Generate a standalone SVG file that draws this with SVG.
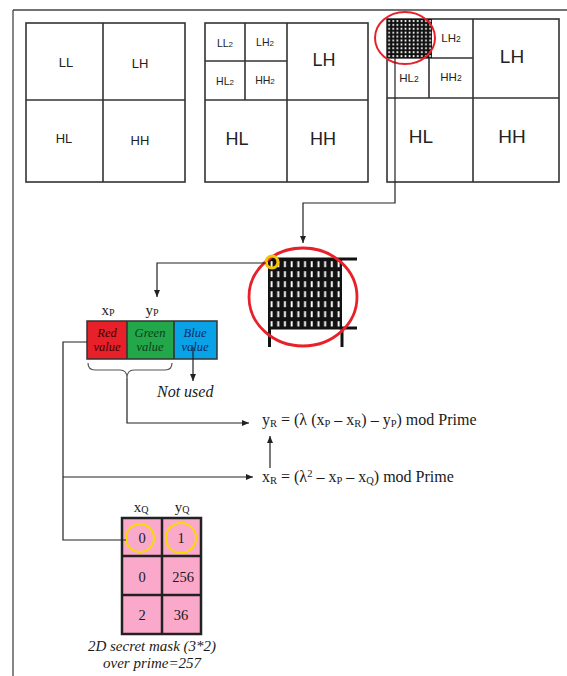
<svg xmlns="http://www.w3.org/2000/svg" width="567" height="676" viewBox="0 0 567 676">
<style>
.frame{fill:none;stroke:#444;stroke-width:1.3}
.box{fill:#fff;stroke:#333;stroke-width:1.6}
.ln{stroke:#333;stroke-width:1.6;fill:none}
.sans{font-family:"Liberation Sans",Arial,sans-serif;fill:#222;text-anchor:middle}
.serif{font-family:"Liberation Serif","Times New Roman",serif;fill:#1a1a1a}
.it{font-style:italic}
.con{fill:none;stroke:#222;stroke-width:1.2}
.mid{text-anchor:middle}
</style>
<defs>
<marker id="ah" markerWidth="8" markerHeight="7" refX="7" refY="3" orient="auto" markerUnits="userSpaceOnUse">
<path d="M0,0 L7,3 L0,6 z" fill="#222"/>
</marker>
<pattern id="fine" x="387" y="19" width="4.1" height="3.9" patternUnits="userSpaceOnUse">
<rect width="4.1" height="3.9" fill="#111"/>
<rect x="1.3" y="1" width="1.6" height="2" fill="#fff"/>
</pattern>
<pattern id="big" x="268" y="259" width="6.7" height="10" patternUnits="userSpaceOnUse">
<rect width="6.7" height="10" fill="#111"/>
<rect x="2.6" y="2.2" width="1.9" height="6" fill="#fff"/>
</pattern>
</defs>

<g id="frame">
<line class="frame" x1="13" y1="10" x2="567" y2="10"/>
<line class="frame" x1="13" y1="10" x2="13" y2="676"/>
</g>

<g id="box1">
<rect class="box" x="26" y="23" width="159" height="159"/>
<line class="ln" x1="103" y1="23" x2="103" y2="182"/>
<line class="ln" x1="26" y1="100" x2="185" y2="100"/>
<text class="sans" x="66" y="67" font-size="13">LL</text>
<text class="sans" x="140" y="68" font-size="13">LH</text>
<text class="sans" x="64" y="143" font-size="13">HL</text>
<text class="sans" x="140" y="145" font-size="13">HH</text>
</g>

<g id="box2">
<rect class="box" x="205" y="23" width="163" height="159"/>
<line class="ln" x1="287" y1="23" x2="287" y2="182"/>
<line class="ln" x1="205" y1="100" x2="368" y2="100"/>
<line class="ln" x1="245" y1="23" x2="245" y2="100"/>
<line class="ln" x1="205" y1="61" x2="287" y2="61"/>
<text class="sans" x="225" y="47" font-size="10.5">LL<tspan font-size="8">2</tspan></text>
<text class="sans" x="265" y="46" font-size="10.5">LH<tspan font-size="8">2</tspan></text>
<text class="sans" x="225" y="85" font-size="10.5">HL<tspan font-size="8">2</tspan></text>
<text class="sans" x="265" y="84" font-size="10.5">HH<tspan font-size="8">2</tspan></text>
<text class="sans" x="324" y="66" font-size="18">LH</text>
<text class="sans" x="237" y="145" font-size="18">HL</text>
<text class="sans" x="323" y="145" font-size="18">HH</text>
</g>

<g id="box3">
<rect class="box" x="387" y="19" width="172" height="163"/>
<line class="ln" x1="473" y1="19" x2="473" y2="182"/>
<line class="ln" x1="387" y1="98" x2="559" y2="98"/>
<line class="ln" x1="387" y1="58" x2="473" y2="58"/>
<line class="ln" x1="429" y1="58" x2="429" y2="98"/>
<rect x="387" y="19" width="45" height="39" fill="url(#fine)"/>
<text class="sans" x="451" y="42" font-size="11.5">LH<tspan font-size="8.5">2</tspan></text>
<text class="sans" x="409" y="82" font-size="11.5">HL<tspan font-size="8.5">2</tspan></text>
<text class="sans" x="451" y="81" font-size="11.5">HH<tspan font-size="8.5">2</tspan></text>
<text class="sans" x="512" y="63" font-size="19">LH</text>
<text class="sans" x="421" y="143" font-size="19">HL</text>
<text class="sans" x="512" y="143" font-size="19">HH</text>
<ellipse cx="405" cy="38" rx="30" ry="26" fill="none" stroke="#e8202a" stroke-width="2"/>
</g>

<g id="zoomed-grid">
<rect x="268" y="259" width="74" height="69" fill="url(#big)"/>
<line x1="268" y1="259" x2="357" y2="259" stroke="#111" stroke-width="3"/>
<line x1="268" y1="328" x2="357" y2="328" stroke="#111" stroke-width="3"/>
<line x1="269.5" y1="328" x2="269.5" y2="347" stroke="#111" stroke-width="3"/>
<line x1="342" y1="328" x2="342" y2="347" stroke="#111" stroke-width="3"/>
<ellipse cx="303" cy="297" rx="54" ry="49" fill="none" stroke="#e8202a" stroke-width="2.8"/>
<circle cx="272" cy="262" r="6" fill="none" stroke="#f5c400" stroke-width="3"/>
</g>

<g id="pixel">
<text class="serif mid" x="108" y="315" font-size="15">x<tspan font-size="10" dy="1">P</tspan></text>
<text class="serif mid" x="152" y="315" font-size="15">y<tspan font-size="10" dy="1">P</tspan></text>
<rect x="87" y="321" width="40" height="38" fill="#e8202a"/>
<rect x="127" y="321" width="47" height="38" fill="#22a84a"/>
<rect x="174" y="321" width="43" height="38" fill="#0aa2e6"/>
<rect x="87" y="321" width="130" height="38" fill="none" stroke="#333" stroke-width="1.5"/>
<line class="ln" x1="127" y1="321" x2="127" y2="359"/>
<line class="ln" x1="174" y1="321" x2="174" y2="359"/>
<text class="serif it mid" x="107" y="337" font-size="12.5" style="fill:#3a0000">Red</text>
<text class="serif it mid" x="107" y="351" font-size="12.5" style="fill:#3a0000">value</text>
<text class="serif it mid" x="150" y="337" font-size="12.5" style="fill:#0c3f18">Green</text>
<text class="serif it mid" x="150" y="351" font-size="12.5" style="fill:#0c3f18">value</text>
<text class="serif it mid" x="195" y="337" font-size="12.5" style="fill:#0a2a6a">Blue</text>
<text class="serif it mid" x="195" y="351" font-size="12.5" style="fill:#0a2a6a">value</text>
<path d="M88,363 q0,7 7,7 h25 q7,0 7,8 q0,-8 7,-8 h31 q7,0 7,-7" fill="none" stroke="#555" stroke-width="1.2"/>
</g>

<g id="not-used">
<text class="serif it" x="157" y="397" font-size="16">Not used</text>
</g>

<g id="formula-y">
<text class="serif" x="262" y="425" font-size="16">y<tspan font-size="10.5" dy="2">R</tspan><tspan dy="-2"> = (λ (x</tspan><tspan font-size="10.5" dy="2">P</tspan><tspan dy="-2"> – x</tspan><tspan font-size="10.5" dy="2">R</tspan><tspan dy="-2">) – y</tspan><tspan font-size="10.5" dy="2">P</tspan><tspan dy="-2">) mod Prime</tspan></text>
</g>

<g id="formula-x">
<text class="serif" x="262" y="482" font-size="16">x<tspan font-size="10.5" dy="2">R</tspan><tspan dy="-2"> = (λ</tspan><tspan font-size="10.5" dy="-5">2</tspan><tspan dy="5"> – x</tspan><tspan font-size="10.5" dy="2">P</tspan><tspan dy="-2"> – x</tspan><tspan font-size="10.5" dy="2">Q</tspan><tspan dy="-2">) mod Prime</tspan></text>
</g>

<g id="mask">
<text class="serif mid" x="141" y="512" font-size="15">x<tspan font-size="10" dy="1">Q</tspan></text>
<text class="serif mid" x="182" y="512" font-size="15">y<tspan font-size="10" dy="1">Q</tspan></text>
<rect x="122" y="518" width="79" height="116" fill="#fba9cb" stroke="#222" stroke-width="2.5"/>
<line x1="162" y1="518" x2="162" y2="634" stroke="#222" stroke-width="2.5"/>
<line x1="122" y1="556" x2="201" y2="556" stroke="#222" stroke-width="2.5"/>
<line x1="122" y1="595" x2="201" y2="595" stroke="#222" stroke-width="2.5"/>
<text class="serif mid" x="142" y="543" font-size="14.5">0</text>
<text class="serif mid" x="181" y="543" font-size="14.5">1</text>
<text class="serif mid" x="142" y="582" font-size="14.5">0</text>
<text class="serif mid" x="183" y="582" font-size="14.5">256</text>
<text class="serif mid" x="142" y="620" font-size="14.5">2</text>
<text class="serif mid" x="181" y="620" font-size="14.5">36</text>
<circle cx="140" cy="538" r="14" fill="none" stroke="#f5dc00" stroke-width="2"/>
<circle cx="181" cy="538" r="15" fill="none" stroke="#f5dc00" stroke-width="2"/>
<text class="serif it mid" x="152" y="651" font-size="15">2D secret mask (3*2)</text>
<text class="serif it mid" x="152" y="668" font-size="15">over prime=257</text>
</g>

<g id="connectors">
<polyline class="con" points="395,58 395,203 303,203 303,243" marker-end="url(#ah)"/>
<polyline class="con" points="266,263 157,263 157,297" marker-end="url(#ah)"/>
<polyline class="con" points="193,347 193,381" marker-end="url(#ah)"/>
<polyline class="con" points="127,378 127,423 249,423" marker-end="url(#ah)"/>
<polyline class="con" points="87,342 63,342 63,540 126,540"/>
<polyline class="con" points="63,477 253,477" marker-end="url(#ah)"/>
<polyline class="con" points="270,468 270,436" marker-end="url(#ah)"/>
</g>
</svg>
